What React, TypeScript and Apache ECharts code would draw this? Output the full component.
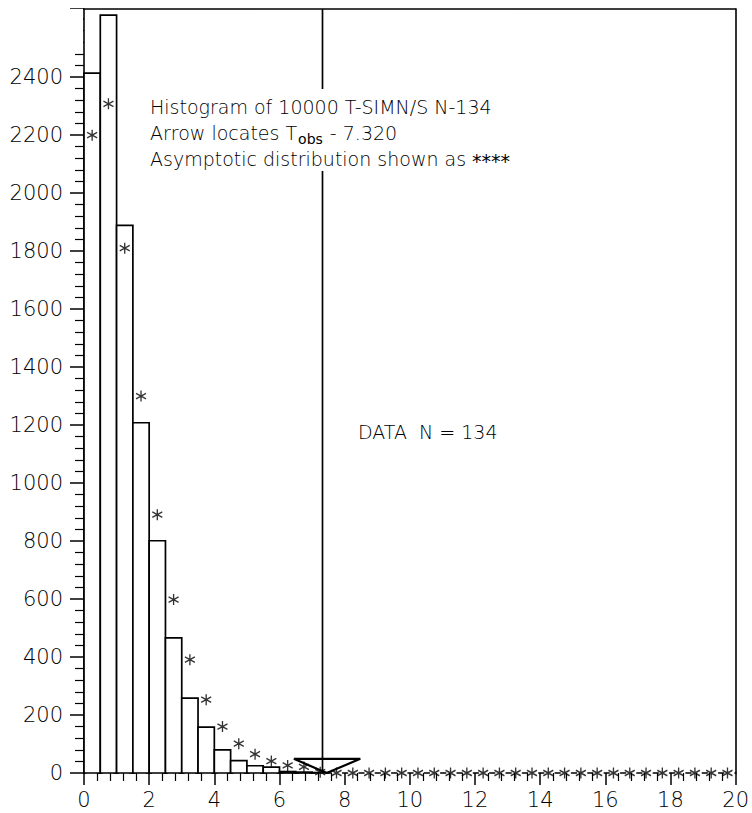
import React, { useEffect, useRef } from "react";
import * as echarts from "echarts";

// Histogram bins (width 0.5) and simulated counts
const binStarts = [0, 0.5, 1, 1.5, 2, 2.5, 3, 3.5, 4, 4.5, 5, 5.5, 6, 6.5, 7];
const binEnds = [0.5, 1, 1.5, 2, 2.5, 3, 3.5, 4, 4.5, 5, 5.5, 6, 6.5, 7, 7.5];
const counts = [2414, 2614, 1889, 1208, 801, 466, 258, 158, 80, 43, 25, 20, 5, 3, 1];

// Asymptotic distribution shown as ****
const starX = [
  0.25, 0.75, 1.25, 1.75, 2.25, 2.75, 3.25, 3.75, 4.25, 4.75,
  5.25, 5.75, 6.25, 6.75, 7.25, 7.75, 8.25, 8.75, 9.25, 9.75,
  10.25, 10.75, 11.25, 11.75, 12.25, 12.75, 13.25, 13.75, 14.25, 14.75,
  15.25, 15.75, 16.25, 16.75, 17.25, 17.75, 18.25, 18.75, 19.25, 19.75,
];
const starValues = [
  2200, 2308, 1810, 1300, 891, 598, 391, 253, 160, 101,
  65, 41, 26, 21, 3, 0, 0, 0, 0, 0,
  0, 0, 0, 0, 0, 0, 0, 0, 0, 0,
  0, 0, 0, 0, 0, 0, 0, 0, 0, 0,
];

// Observed statistic and arrow head
const tObs = 7.32;
const arrowX = [6.44, 8.48, 7.45, 6.44];
const arrowY = [49, 49, 0, 49];

const xMin = 0;
const xMax = 20;
const xInterval = 2;
const yMin = 0;
const yMax = 2635;
const yInterval = 200;
const yLastLabel = 2400;

const textLine1 = "Histogram of 10000 T-SIMN/S N-134";
const textLine2a = "Arrow locates T";
const textLine2sub = "obs";
const textLine2b = " - 7.320";
const textLine3a = "Asymptotic distribution shown as ";
const textLine3b = "****";
const dataText = "DATA  N = 134";

const FONT = "'DejaVu Sans', 'Liberation Sans', sans-serif";
const INK = "#000";
const TEXT_SIZE = 19;
const SUB_SIZE = 14;

const asterisk = "path://M5,0L5,10M0.67,2.5L9.33,7.5M0.67,7.5L9.33,2.5";

function measure(text: string, size: number, weight: number): number {
  const c = document.createElement("canvas").getContext("2d");
  if (!c) return text.length * size * 0.55;
  c.font = `${weight} ${size}px 'DejaVu Sans', 'Liberation Sans', sans-serif`;
  return c.measureText(text).width;
}

export default function App() {
  const ref = useRef<HTMLDivElement>(null);

  useEffect(() => {
    if (!ref.current) return;
    const chart = echarts.init(ref.current, undefined, { renderer: "svg" });

    const histData = binStarts.map((s, i) => [s, binEnds[i], counts[i]]);
    const starData = starX.map((x, i) => [x, starValues[i]]);
    const arrowData = arrowX.map((x, i) => [x, arrowY[i]]);

    const tx = 150;
    const w2a = measure(textLine2a, TEXT_SIZE, 200);
    const wSub = measure(textLine2sub, SUB_SIZE, 400);
    const w3a = measure(textLine3a, TEXT_SIZE, 200);

    const txt = (text: string, x: number, y: number, size: number, weight: number) => ({
      type: "text",
      z: 21,
      x,
      y,
      style: {
        text,
        fontFamily: FONT,
        fontSize: size,
        fontWeight: weight,
        fill: INK,
        verticalAlign: "middle",
      },
    });

    chart.setOption({
      animation: false,
      backgroundColor: "#fff",
      grid: { left: 84, right: 14, top: 9, bottom: 40, containLabel: false },
      xAxis: [
        {
          type: "value",
          min: xMin,
          max: xMax,
          interval: xInterval,
          position: "bottom",
          axisLine: {
            show: true,
            onZero: false,
            lineStyle: { color: INK, width: 1.6, type: [5, 11.35], dashOffset: 2.5 },
          },
          axisTick: { show: true, inside: false, length: 12, lineStyle: { color: INK, width: 1.5 } },
          minorTick: { show: true, splitNumber: 5, length: 8, lineStyle: { color: INK, width: 1.2 } },
          axisLabel: {
            fontFamily: FONT,
            fontSize: 21,
            color: INK,
            margin: 16,
            fontWeight: 200,
            formatter: (v: number) => String(v),
          },
          splitLine: { show: false },
        },
        {
          type: "value",
          min: xMin,
          max: xMax,
          position: "top",
          axisLine: { show: true, onZero: false, lineStyle: { color: INK, width: 1.6 } },
          axisTick: { show: false },
          axisLabel: { show: false },
          splitLine: { show: false },
        },
      ],
      yAxis: [
        {
          type: "value",
          min: yMin,
          max: yMax,
          interval: yInterval,
          position: "left",
          axisLine: { show: true, onZero: false, lineStyle: { color: INK, width: 1.6 } },
          axisTick: { show: true, inside: false, length: 14, lineStyle: { color: INK, width: 1.5 } },
          minorTick: { show: true, splitNumber: 5, length: 9, lineStyle: { color: INK, width: 1.2 } },
          axisLabel: {
            fontFamily: FONT,
            fontSize: 21,
            color: INK,
            margin: 21,
            fontWeight: 200,
            showMaxLabel: false,
            formatter: (v: number) => (v > yLastLabel ? "" : String(v)),
          },
          splitLine: { show: false },
        },
        {
          type: "value",
          min: yMin,
          max: yMax,
          position: "right",
          axisLine: { show: true, onZero: false, lineStyle: { color: INK, width: 1.6 } },
          axisTick: { show: false },
          axisLabel: { show: false },
          splitLine: { show: false },
        },
      ],
      series: [
        {
          type: "custom",
          name: "Histogram",
          xAxisIndex: 0,
          yAxisIndex: 0,
          z: 2,
          data: histData,
          encode: { x: [0, 1], y: 2 },
          renderItem: (params: any, api: any) => {
            const x0 = api.value(0);
            const x1 = api.value(1);
            const v = api.value(2);
            const pTop = api.coord([x0, v]);
            const pBot = api.coord([x1, 0]);
            return {
              type: "rect",
              shape: {
                x: pTop[0],
                y: pTop[1],
                width: pBot[0] - pTop[0],
                height: pBot[1] - pTop[1],
              },
              style: { fill: "#fff", stroke: INK, lineWidth: 1.7 },
            };
          },
        },
        {
          type: "line",
          name: "Tobs",
          xAxisIndex: 0,
          yAxisIndex: 0,
          z: 3,
          symbol: "none",
          data: [
            [tObs, yMin],
            [tObs, yMax],
          ],
          lineStyle: { color: INK, width: 1.7 },
        },
        {
          type: "line",
          name: "Arrow",
          xAxisIndex: 0,
          yAxisIndex: 0,
          z: 4,
          symbol: "none",
          data: arrowData,
          lineStyle: { color: INK, width: 2.2 },
        },
        {
          type: "scatter",
          name: "Asymptotic",
          xAxisIndex: 0,
          yAxisIndex: 0,
          z: 5,
          symbol: asterisk,
          symbolSize: [10, 11],
          data: starData,
          itemStyle: { color: "transparent", borderColor: INK, borderWidth: 1.4 },
        },
      ],
      graphic: [
        {
          type: "rect",
          z: 20,
          shape: { x: 60, y: 9, width: 23, height: 36 },
          style: { fill: "#fff" },
        },
        {
          type: "rect",
          z: 20,
          shape: { x: 146, y: 89, width: 390, height: 82 },
          style: { fill: "#fff" },
        },
        txt(textLine1, tx, 107, TEXT_SIZE, 200),
        txt(textLine2a, tx, 133, TEXT_SIZE, 200),
        txt(textLine2sub, tx + w2a + 1, 139, SUB_SIZE, 400),
        txt(textLine2b, tx + w2a + wSub + 2, 133, TEXT_SIZE, 200),
        txt(textLine3a, tx, 159, TEXT_SIZE, 200),
        txt(textLine3b, tx + w3a, 161, TEXT_SIZE, 400),
        txt(dataText, 358, 432, TEXT_SIZE, 200),
      ],
    });

    return () => {
      chart.dispose();
    };
  }, []);

  return (
    <div
      ref={ref}
      style={{ position: "fixed", left: 0, top: 0, width: 752, height: 813, background: "#fff" }}
    />
  );
}
